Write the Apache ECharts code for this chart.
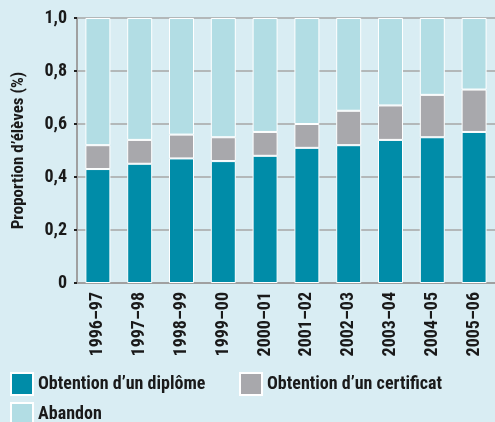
<!DOCTYPE html>
<html>
<head>
<meta charset="utf-8">
<script src="https://cdn.jsdelivr.net/npm/echarts@6/dist/echarts.min.js"></script>
<style>
  html, body { margin: 0; padding: 0; background: #d9edf3; }
  #main { width: 495px; height: 422px; }
</style>
</head>
<body>
<div id="main"></div>
<script>
// données
var annees = ['1996–97', '1997–98', '1998–99', '1999–00', '2000–01', '2001–02', '2002–03', '2003–04', '2004–05', '2005–06'];
var diplome = [0.43, 0.45, 0.47, 0.46, 0.48, 0.51, 0.52, 0.54, 0.55, 0.57];
var certificat = [0.09, 0.09, 0.09, 0.09, 0.09, 0.09, 0.13, 0.13, 0.16, 0.16];
var abandon = [0.48, 0.46, 0.44, 0.45, 0.43, 0.40, 0.35, 0.33, 0.29, 0.27];

var police = '"Roboto Condensed", "DejaVu Sans Condensed", sans-serif';
var texte = '#1a1a1a';

var myChart = echarts.init(document.getElementById('main'));

var styleLegende = { fontSize: 18, fontWeight: 'bold', color: texte, fontFamily: police };

var option = {
    backgroundColor: '#d9edf3',
    textStyle: { fontFamily: police },
    grid: { left: 77, top: 18, width: 423, bottom: 139 },
    legend: [
        {
            left: 10, top: 372, padding: 0, itemWidth: 22, itemHeight: 22, icon: 'rect',
            data: ['Obtention d’un diplôme'],
            textStyle: styleLegende
        },
        {
            left: 239, top: 372, padding: 0, itemWidth: 22, itemHeight: 22, icon: 'rect',
            data: ['Obtention d’un certificat'],
            textStyle: styleLegende
        },
        {
            left: 10, top: 402, padding: 0, itemWidth: 22, itemHeight: 22, icon: 'rect',
            data: ['Abandon'],
            textStyle: styleLegende
        }
    ],
    xAxis: {
        type: 'category',
        data: annees,
        axisLine: { lineStyle: { color: '#a0a0a0', width: 2 } },
        axisTick: { show: false },
        axisLabel: {
            rotate: 90, margin: 9, color: texte,
            fontSize: 18, fontWeight: 'bold', fontFamily: police
        }
    },
    yAxis: {
        type: 'value',
        min: 0, max: 1, interval: 0.2,
        name: 'Proportion d’élèves (%)',
        nameLocation: 'middle',
        nameGap: 50,
        nameTextStyle: { fontSize: 17, fontWeight: 'bold', color: texte, fontFamily: police },
        axisLine: { show: true, lineStyle: { color: '#a0a0a0', width: 2 } },
        axisTick: { show: true, length: 3, lineStyle: { color: '#222', width: 2 } },
        splitLine: { lineStyle: { color: '#a6a6a6', width: 1.5 } },
        axisLabel: {
            color: texte, fontSize: 18, fontWeight: 'bold', fontFamily: police, margin: 10,
            formatter: function (v) {
                if (v === 0) return '0';
                return v.toFixed(1).replace('.', ',');
            }
        }
    },
    series: [
        {
            name: 'Obtention d’un diplôme', type: 'bar', stack: 'total', barWidth: 25,
            data: diplome,
            itemStyle: { color: '#008ca8', borderColor: '#fff', borderWidth: 1 }
        },
        {
            name: 'Obtention d’un certificat', type: 'bar', stack: 'total', barWidth: 25,
            data: certificat,
            itemStyle: { color: '#a8a8ac', borderColor: '#fff', borderWidth: 1 }
        },
        {
            name: 'Abandon', type: 'bar', stack: 'total', barWidth: 25,
            data: abandon,
            itemStyle: { color: '#b2dde4', borderColor: '#fff', borderWidth: 1 }
        }
    ]
};

myChart.setOption(option);
</script>
</body>
</html>
